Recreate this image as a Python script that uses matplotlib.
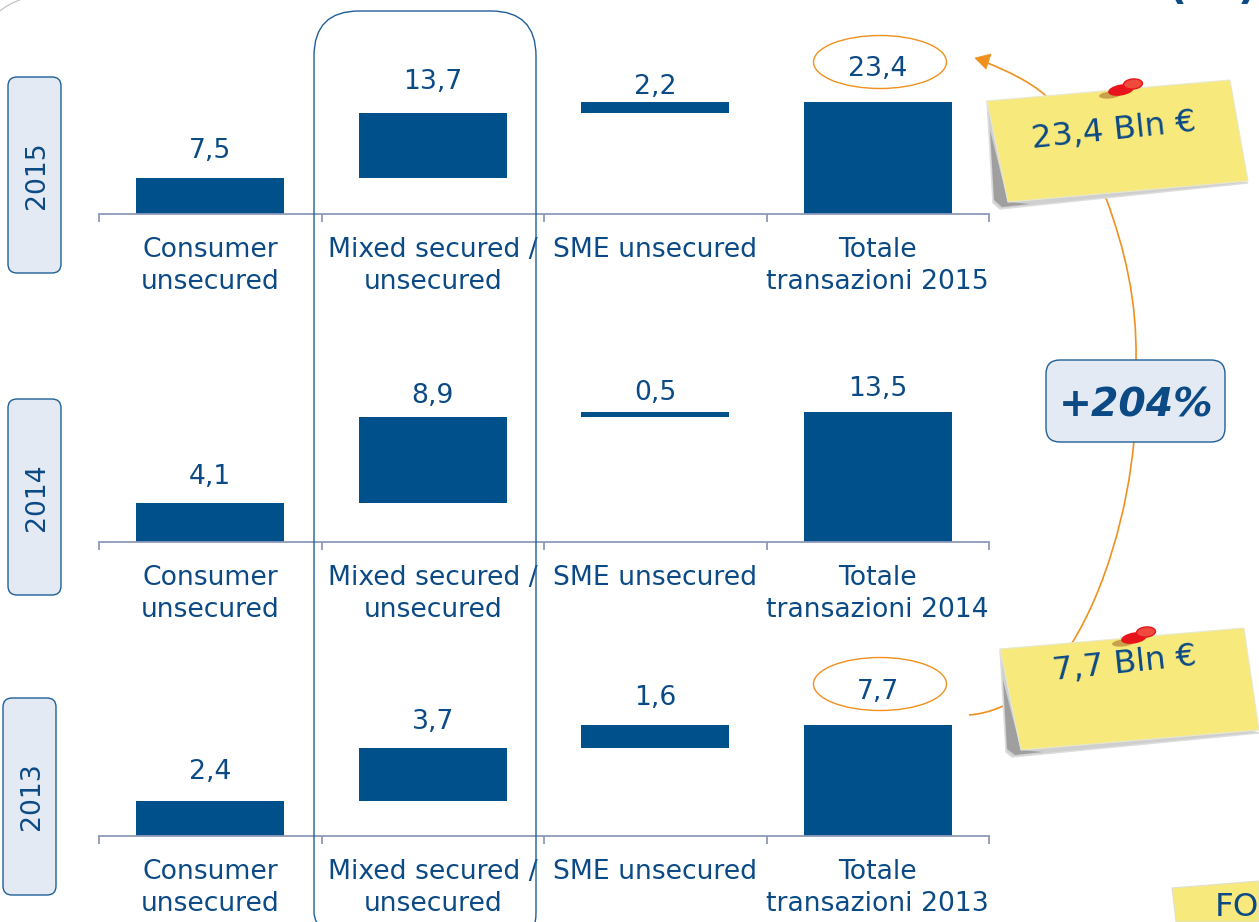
#!/usr/bin/env python3
# -*- coding: utf-8 -*-
import matplotlib
matplotlib.use("Agg")
import matplotlib.pyplot as plt
from matplotlib.patches import FancyBboxPatch, Ellipse, Polygon, PathPatch
from matplotlib.path import Path

W, H = 1259, 922
BLUE = "#00508c"
TXT = "#0b4a85"
ORANGE = "#f0901e"
FS = 19.2

categories = ["Consumer\nunsecured", "Mixed secured /\nunsecured", "SME unsecured"]
years = ["2015", "2014", "2013"]
consumer = [7.5, 4.1, 2.4]
mixed = [13.7, 8.9, 3.7]
sme = [2.2, 0.5, 1.6]
totale = [23.4, 13.5, 7.7]

# layout (pixel) of the three panels
baselines = [214, 542, 836]
heights = [112, 130, 111]
label_gaps = [[27, 31, 15, 33], [26, 21, 19, 23], [29, 26, 27, 33]]
year_boxes = [(8, 77, 53, 196), (8, 399, 53, 196), (3, 698, 53, 197)]

fig = plt.figure(figsize=(W / 100, H / 100), dpi=100)


def fmt(v):
    return f"{v:.1f}".replace(".", ",")


for i, year in enumerate(years):
    ax = fig.add_axes([99 / W, 1 - baselines[i] / H, 890 / W, heights[i] / H])
    ax.patch.set_alpha(0)
    vals = [consumer[i], mixed[i], sme[i], totale[i]]
    bottoms = [0, consumer[i], consumer[i] + mixed[i], 0]
    xs = [0.5, 1.5, 2.5, 3.5]
    ax.bar(xs, vals, bottom=bottoms, width=148 / 222.5, color=BLUE)
    ax.set_xlim(0, 4)
    ax.set_ylim(0, totale[i])
    for s in ["top", "left", "right"]:
        ax.spines[s].set_visible(False)
    ax.spines["bottom"].set_color("#8e9ab8")
    ax.spines["bottom"].set_linewidth(1.3)
    ax.set_yticks([])
    ax.set_xticks([0, 1, 2, 3, 4], minor=True)
    ax.tick_params(axis="x", which="minor", length=5.5, width=1.3, color="#8e9ab8")
    ax.set_xticks(xs)
    ax.set_xticklabels(categories + ["Totale\ntransazioni " + year],
                       fontsize=FS, color=TXT, linespacing=1.32)
    ax.tick_params(axis="x", which="major", length=0, pad=16.5)
    for x, v, b, gap in zip(xs, vals, bottoms, label_gaps[i]):
        ax.annotate(fmt(v), xy=(x, v + b), xytext=(0, gap * 0.72),
                    textcoords="offset points", ha="center", va="center",
                    fontsize=FS, color=TXT, annotation_clip=False)

# overlay in pixel coordinates for the slide decoration
ov = fig.add_axes([0, 0, 1, 1], zorder=5)
ov.set_xlim(0, W)
ov.set_ylim(H, 0)
ov.axis("off")
ov.patch.set_alpha(0)

for (x, y, w, h), year in zip(year_boxes, years):
    ov.add_patch(FancyBboxPatch((x + 8, y + 8), w - 16, h - 16,
                                boxstyle="round,pad=8,rounding_size=9",
                                fc="#e4eaf3", ec="#1f5f99", lw=1))
    ov.text(x + w / 2 + 3, y + h / 2, year, rotation=90, ha="center", va="center",
            fontsize=FS, color=TXT)

# highlight round the mixed column
ov.add_patch(FancyBboxPatch((314 + 45, 11 + 45), 222 - 90, 856,
                            boxstyle="round,pad=45,rounding_size=45",
                            fc="none", ec="#1f5f99", lw=1))

# corner of the slide frame
ov.add_patch(PathPatch(Path([(0, 11), (8, 4), (20, 0)],
                            [Path.MOVETO, Path.CURVE3, Path.CURVE3]),
                       fc="none", ec="#bdbdbd", lw=0.8))

for cy in [62, 684]:
    ov.add_patch(Ellipse((880, cy), 133, 53, fc="none", ec=ORANGE, lw=1))

# growth curve from the 2013 total to the 2015 total
verts = [(969, 715), (1010, 712), (1050, 680), (1072, 643),
         (1105, 590), (1128, 510), (1134, 440),
         (1136, 410), (1137, 385), (1136, 360),
         (1137, 300), (1125, 250), (1106, 198),
         (1090, 150), (1070, 120), (1045, 95),
         (1030, 82), (1010, 72), (985, 62)]
codes = [Path.MOVETO] + [Path.CURVE4] * 18
ov.add_patch(PathPatch(Path(verts, codes), fc="none", ec=ORANGE, lw=1.2))
ov.add_patch(Polygon([(975, 58), (991, 54), (986, 69)], fc=ORANGE, ec=ORANGE, lw=0.5))

ov.add_patch(FancyBboxPatch((1046 + 14, 360 + 14), 179 - 28, 82 - 28,
                            boxstyle="round,pad=14,rounding_size=14",
                            fc="#e4eaf3", ec="#1f5f99", lw=1))
ov.text(1136, 405, "+204%", ha="center", va="center", fontsize=28.4,
        fontweight="bold", fontstyle="italic", color=TXT)

# post-its
def note(pts, fold, dark, pin, txt, tx, ty):
    ov.add_patch(Polygon(fold, fc="#cfcfcf", ec="#dddddd", lw=1))
    ov.add_patch(Polygon(dark, fc="#9f9f9f", ec="none"))
    ov.add_patch(Polygon(pts, fc="#f8e97c", ec="#e8e8d0", lw=0.8))
    ov.add_patch(Ellipse((pin[0] - 23, pin[1] + 11), 22, 7, angle=-6, fc="#c8a24a", ec="none"))
    ov.add_patch(Ellipse((pin[0] - 12, pin[1] + 6), 26, 11, angle=-10, fc="#e8141c", ec="none"))
    ov.add_patch(Ellipse(pin, 19, 10, angle=-5, fc="#f04a3c", ec="#e8141c", lw=1))
    ov.text(tx, ty, txt, rotation=6, rotation_mode="anchor", ha="center", va="center",
            fontsize=23.4, color=TXT)


note([(987, 101), (1230, 80), (1248, 181), (1008, 202)],
     [(987, 101), (993, 203), (1000, 209), (1248, 183)],
     [(990, 130), (994, 200), (1002, 207), (1030, 204), (1008, 202)],
     (1133, 84), "23,4 Bln €", 1114, 131)
note([(1000, 649), (1244, 628), (1259, 730), (1021, 750)],
     [(1000, 649), (1006, 752), (1012, 757), (1259, 733)],
     [(1003, 680), (1007, 749), (1015, 755), (1043, 752), (1021, 750)],
     (1146, 632), "7,7 Bln €", 1125, 664)

# bottom right post-it, cut by the image border
ov.add_patch(Polygon([(1172, 888), (1259, 881), (1259, 922), (1176, 922)],
                     fc="#f8e97c", ec="#e0e0d0", lw=0.8))
ov.text(1215, 907, "FO", ha="left", va="center", fontsize=23.4, color=TXT)

# title cut off by the top border of the picture
ov.text(1177, -13, "(", ha="center", va="center", fontsize=30, fontweight="bold", color=TXT)
ov.text(1247, -13, ")", ha="center", va="center", fontsize=30, fontweight="bold", color=TXT)

fig.savefig("out.png", dpi=100)
